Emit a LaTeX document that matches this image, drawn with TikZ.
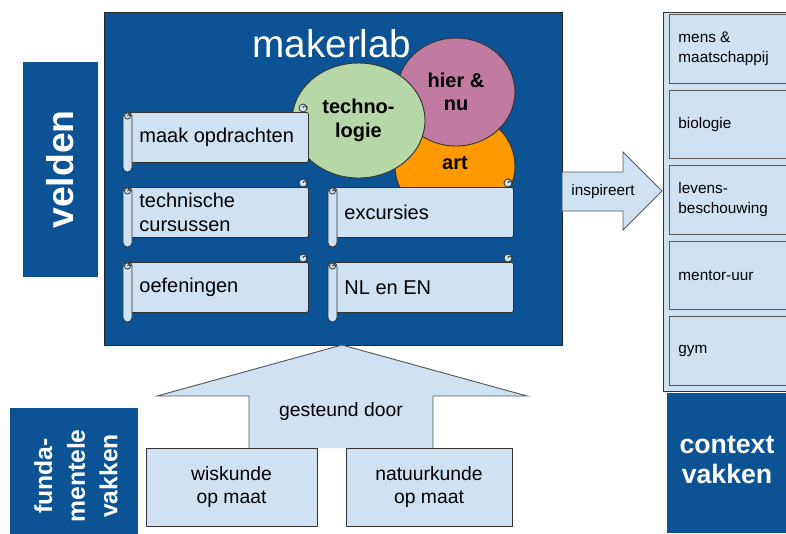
\documentclass[tikz,border=0pt]{standalone}
\usepackage{fontspec}
\setmainfont{Liberation Sans}
\usetikzlibrary{shapes.geometric}
\definecolor{db}{HTML}{0B5394}
\definecolor{lb}{HTML}{CFE2F3}
\definecolor{gr}{HTML}{B6D7A8}
\definecolor{pk}{HTML}{C27BA0}
\definecolor{og}{HTML}{FF9900}
\definecolor{edge}{HTML}{333333}
\definecolor{aedge}{HTML}{595959}
\newcommand{\fsz}[2]{\fontsize{#1}{#2}\selectfont}
\newcommand{\scrollat}[4]{%
  \node[scrollbody, anchor=north west] (#1) at (#2+5,#3) {#4};
  \draw[scrollline, fill=lb] (#2+180,#3-4) circle[radius=3pt];
  \draw[scrollline] (#2+180,#3-4) arc[start angle=180, end angle=0, radius=1.5pt] -- ++(0,1.5pt);
  \draw[scrollline, fill=lb, rounded corners=3.3pt] (#2,#3) rectangle (#2+9,#3+60);
  \draw[scrollline, fill=lb] (#2+4.5,#3+4) circle[radius=2.3pt];
  \draw[scrollline] (#2+4.5,#3+4) arc[start angle=180, end angle=0, radius=1.1pt];
}
\begin{document}
\begin{tikzpicture}[x=0.75pt,y=-0.75pt,
  darkbox/.style={fill=db, draw=none},
  scrollline/.style={draw=edge, line width=0.6pt},
  scrollbody/.style={draw=edge, line width=0.6pt, fill=lb, rounded corners=1.5pt,
    minimum width=135pt, minimum height=37.5pt, inner xsep=8.25pt,
    text width=118.5pt, align=flush left, font=\fsz{15}{18}},
  blob/.style={ellipse, draw=edge, line width=0.7pt, inner sep=0pt, align=center,
    font=\bfseries\fsz{15}{17.5}},
  blockarrow/.style={draw=aedge, line width=0.7pt, fill=lb},
  colbox/.style={draw=aedge, line width=0.7pt, fill=lb, anchor=north west,
    minimum width=98.25pt, minimum height=51.4pt, inner xsep=6.75pt,
    text width=84.75pt, align=flush left, font=\fsz{11.5}{15}},
  basebox/.style={draw=edge, line width=0.7pt, fill=lb, align=center,
    minimum height=58.5pt, font=\fsz{14.5}{17.5}}
]
\useasboundingbox (0,0) rectangle (786,533);
\fill[white] (0,0) rectangle (786,533);

% velden
\node[darkbox, rotate=90, minimum width=161.25pt, minimum height=56.25pt,
  text=white, font=\bfseries\fsz{28}{30}] (velden) at (60.5,169.5) {velden};

% makerlab
\node[fill=db, draw=black!85, line width=0.7pt, minimum width=343.5pt,
  minimum height=249.75pt] (makerlab) at (333,178.5) {};
\node[text=white, font=\fsz{29}{30}, anchor=base] (title) at (332,57) {makerlab};

% blobs
\node[blob, fill=og, minimum width=90pt, minimum height=82.5pt] (art) at (455,166) {};
\node[font=\bfseries\fsz{15}{17.5}] (arttxt) at (455,163) {art};
\node[blob, fill=pk, minimum width=88.5pt, minimum height=81pt] (hier) at (456,92) {hier \&\\nu};
\node[blob, fill=gr, minimum width=99.75pt, minimum height=86.25pt] (tech) at (358.5,120.5) {techno-\\logie};

% scrolls
\scrollat{maak}{123}{112}{maak opdrachten}
\scrollat{techn}{123}{187}{technische\\cursussen}
\scrollat{oef}{123}{262}{oefeningen}
\scrollat{exc}{328}{187}{excursies}
\scrollat{nlen}{328}{262}{NL en EN}

% right column
\node[draw=edge, line width=0.8pt, fill=lb, anchor=north west, minimum width=105pt,
  minimum height=284.25pt] (col) at (663,12) {};
\node[colbox] (mens) at (669,14) {mens \&\\maatschappij};
\node[colbox] (bio) at (669,89.6) {biologie};
\node[colbox] (lev) at (669,165.2) {levens-\\beschouwing};
\node[colbox] (ment) at (669,240.8) {mentor-uur};
\node[colbox] (gym) at (669,316.4) {gym};

% inspireert arrow
\draw[blockarrow] (makerlab.east |- {(0,172)}) -- (623,172) -- (623,152) -- (662,191)
  -- (623,230) -- (623,211) -- (makerlab.east |- {(0,211)});
\node[font=\fsz{11.5}{14}] (insp) at (603,192) {inspireert};

% context vakken
\node[darkbox, anchor=north west, minimum width=100pt, minimum height=105pt] (ctx) at (667,393) {};
\node[text=white, align=center, font=\bfseries\fsz{20}{23}] (ctxtxt) at (727,460) {context\\vakken};

% fundamentele vakken
\node[darkbox, anchor=north west, minimum width=96pt, minimum height=100pt] (fund) at (10,408) {};
\node[rotate=90, text=white, align=center, font=\bfseries\fsz{18.5}{24.5}] (fundtxt) at (76,476) {funda-\\mentele\\vakken};

% gesteund door arrow
\draw[blockarrow] (249,448) -- (249,396) -- (157,396) -- (342,345) -- (527,396)
  -- (433,396) -- (433,448);
\node[font=\fsz{14.5}{17}] (gest) at (341,411) {gesteund door};

% base boxes
\node[basebox, minimum width=128.25pt] (wis) at (231.5,487) {wiskunde\\op maat};
\node[basebox, minimum width=124.5pt] (nat) at (429,487) {natuurkunde\\op maat};
\end{tikzpicture}
\end{document}
